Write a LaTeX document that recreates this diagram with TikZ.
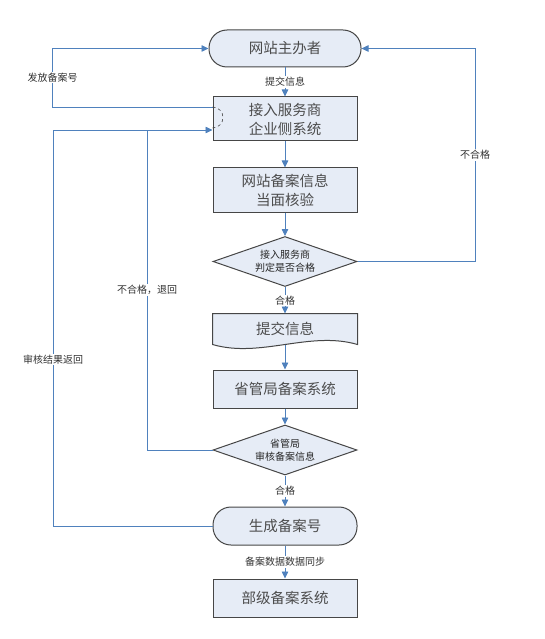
\documentclass[tikz,border=0pt]{standalone}
\usepackage{fontspec}
\newfontfamily\cjk{Noto Sans CJK SC}
\usetikzlibrary{shapes.geometric,arrows.meta,backgrounds}
\definecolor{boxfill}{RGB}{230,236,246}
\definecolor{boxline}{RGB}{70,70,70}
\definecolor{linkblue}{RGB}{79,129,189}

\begin{document}
\begin{tikzpicture}[x=1pt,y=-1pt,
    box/.style={draw=boxline,fill=boxfill,line width=1pt,minimum width=144pt,
        inner sep=0pt,align=center,text=black!70,font=\cjk\fontsize{14.5}{19}\selectfont},
    proc/.style={box,rectangle,minimum height=44pt},
    terminal/.style={box,rectangle,rounded corners=18pt,minimum height=38pt},
    decision/.style={box,diamond,aspect=2.9,minimum height=50pt,
        font=\cjk\fontsize{10}{13}\selectfont,text=black!85},
    link/.style={linkblue,line width=0.8pt},
    flow/.style={link,-{Triangle[length=7pt,width=6.5pt]}},
    lbl/.style={fill=white,inner sep=1pt,text=black!80,font=\cjk\fontsize{10}{13}\selectfont}]
    \useasboundingbox (0,0) rectangle (544,639);

    % main column, top to bottom
    \node[terminal,minimum width=152pt,minimum height=37pt] (host) at (285,48.5) {网站主办者};
    \node[proc] (access) at (285,119) {接入服务商\\企业侧系统};
    \node[proc] (check) at (285,190) {网站备案信息\\当面核验};
    \node[decision] (judge) at (285,261.5) {接入服务商\\判定是否合格};
    \node[box,draw=none,fill=none,rectangle,minimum height=30pt] (submit) at (285,329) {提交信息};
    \node[proc,minimum height=38pt] (prov) at (285,389) {省管局备案系统};
    \node[decision] (audit) at (285,450) {省管局\\审核备案信息};
    \node[terminal] (gen) at (285,526) {生成备案号};
    \node[proc,minimum height=38pt] (dept) at (285,598) {部级备案系统};

    % document shape behind the text, wavy bottom
    \begin{scope}[on background layer]
        \filldraw[fill=boxfill,draw=boxline,line width=1pt] (submit.south west) -- (submit.north west)
        -- (submit.north east) -- (submit.south east)
        .. controls +(-48,-14) and +(48,14) .. (submit.south west) -- cycle;
    \end{scope}

    % corners of the side lines
    \coordinate (rtop) at (475,48.5);
    \coordinate (lret) at (53,130);
    \coordinate (lmid) at (147,130);

    \draw[flow] (host) -- node[lbl]{提交信息} (access);
    \draw[flow] (access) -- (check);
    \draw[flow] (check) -- (judge);
    \draw[flow] (judge) -- node[lbl]{合格} (submit);
    \draw[flow] (submit.south) -- (prov);
    \draw[flow] (prov) -- (audit);
    \draw[flow] (audit) -- node[lbl]{合格} (gen);
    \draw[flow] (gen) -- node[lbl]{备案数据数据同步} (dept);

    % back loops
    \draw[flow] (judge.east) -| node[lbl,pos=0.75]{不合格} (rtop) -- (host.east);
    \draw[flow] ([yshift=12pt]access.west) -- ++(-160,0) |- node[lbl,pos=0.25]{发放备案号} (host.west);
    \draw[flow] (gen.west) -| node[lbl,pos=0.71]{审核结果返回} (lret) -- ([yshift=-11pt]access.west);
    \draw[link] (audit.west) -| node[lbl,pos=0.75]{不合格，退回} (lmid);
    % line jump mark on the box edge
    \draw[boxline,dashed,line width=0.6pt] ([yshift=12pt]access.west) arc[start angle=90,end angle=-90,radius=10.5pt];

\end{tikzpicture}
\end{document}
